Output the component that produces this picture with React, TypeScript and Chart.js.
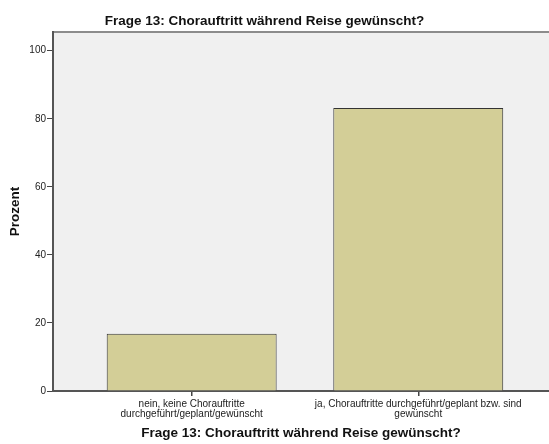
import React, { useEffect, useRef } from "react";
import { Chart, registerables } from "chart.js";

Chart.register(...registerables);

const chartTitle = "Frage 13: Chorauftritt während Reise gewünscht?";
const xAxisTitle = "Frage 13: Chorauftritt während Reise gewünscht?";
const yAxisTitle = "Prozent";
const categories: string[][] = [
  ["nein, keine Chorauftritte", "durchgeführt/geplant/gewünscht"],
  ["ja, Chorauftritte durchgeführt/geplant bzw. sind", "gewünscht"],
];
const percentValues = [16.8, 83.2];
const yTickValues = [0, 20, 40, 60, 80, 100];

const FONT = "'Liberation Sans', Arial, sans-serif";

export default function App() {
  const ref = useRef<HTMLCanvasElement | null>(null);

  useEffect(() => {
    document.body.style.margin = "0";
    const canvas = ref.current;
    if (!canvas) return;

    const bgPlugin = {
      id: "spssBg",
      beforeDraw(chart: any) {
        const { ctx, chartArea } = chart;
        ctx.save();
        ctx.fillStyle = "#F0F0F0";
        ctx.fillRect(chartArea.left, chartArea.top, chartArea.right - chartArea.left, chartArea.bottom - chartArea.top);
        ctx.strokeStyle = "#8C8C8C";
        ctx.lineWidth = 2;
        ctx.beginPath();
        ctx.moveTo(chartArea.left, chartArea.top);
        ctx.lineTo(chartArea.right, chartArea.top);
        ctx.stroke();
        ctx.restore();
      },
      afterDraw(chart: any) {
        const { ctx } = chart;
        ctx.save();
        ctx.fillStyle = "#111";
        ctx.font = `bold 13.5px ${FONT}`;
        ctx.textAlign = "center";
        ctx.textBaseline = "middle";
        ctx.fillText(chartTitle, chart.width / 2 - 10, 21);
        ctx.restore();
      },
    };

    const chart = new Chart(canvas, {
      type: "bar",
      data: {
        datasets: [
          {
            data: percentValues.map((v, i) => ({ x: i, y: v })),
            backgroundColor: "#D3CE97",
            borderColor: "#333333",
            borderWidth: 1,
            barPercentage: 0.75,
            categoryPercentage: 1,
          },
        ],
      },
      options: {
        animation: false,
        responsive: true,
        maintainAspectRatio: false,
        layout: { padding: { top: 32, left: 0, right: 0, bottom: 0 } },
        plugins: {
          legend: { display: false },
          tooltip: { enabled: false },
          title: { display: false },
        },
        scales: {
          x: {
            type: "linear",
            offset: false,
            min: -0.612,
            max: 1.577,
            afterBuildTicks: (scale: any) => {
              scale.ticks = categories.map((_, i) => ({ value: i }));
            },
            afterFit: (scale: any) => {
              scale.height = 53;
            },
            ticks: {
              autoSkip: false,
              maxRotation: 0,
              padding: 3,
              color: "#222",
              font: { family: FONT, size: 10, lineHeight: 1.0 },
              callback: (v: any) => categories[v] ?? "",
            },
            grid: {
              display: true,
              offset: false,
              drawOnChartArea: false,
              drawTicks: true,
              tickLength: 5,
              color: "#444",
              lineWidth: 1.5,
            },
            border: { display: true, color: "#555", width: 2 },
            title: {
              display: true,
              text: xAxisTitle,
              color: "#111",
              font: { family: FONT, size: 13.5, weight: "bold" },
              padding: { top: 0, bottom: 3 },
            },
          },
          y: {
            min: 0,
            max: 105.5,
            afterBuildTicks: (scale: any) => {
              scale.ticks = yTickValues.map((v) => ({ value: v }));
            },
            afterFit: (scale: any) => {
              scale.width = 53;
            },
            ticks: {
              padding: 1,
              color: "#222",
              font: { family: FONT, size: 10 },
            },
            grid: {
              display: true,
              drawOnChartArea: false,
              drawTicks: true,
              tickLength: 6,
              color: "#444",
              lineWidth: 1,
            },
            border: { display: true, color: "#555", width: 2 },
            title: {
              display: true,
              text: yAxisTitle,
              color: "#111",
              font: { family: FONT, size: 13.5, weight: "bold" },
              padding: { top: 7, bottom: 0 },
            },
          },
        },
      },
      plugins: [bgPlugin],
    } as any);

    return () => chart.destroy();
  }, []);

  return (
    <div style={{ position: "absolute", left: 0, top: 0, width: 549, height: 444 }}>
      <canvas ref={ref} />
    </div>
  );
}
